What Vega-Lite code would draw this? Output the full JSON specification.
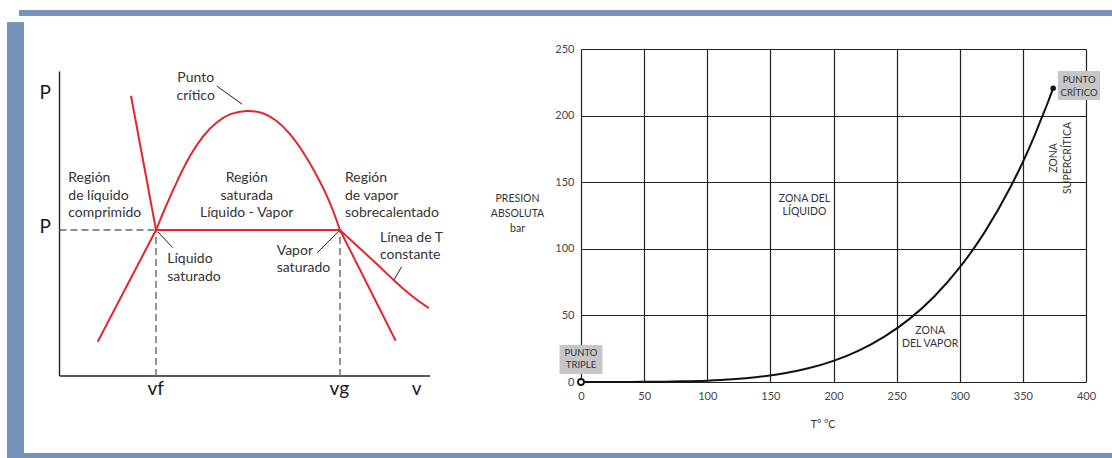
{
  "$schema": "https://vega.github.io/schema/vega-lite/v6.json",
  "padding": {"left": 7, "top": 10, "right": 0, "bottom": 0},
  "background": "white",
  "spacing": 0,
  "config": {"view": {"stroke": null}, "font": "Lato"},
  "vconcat": [
    {
      "spacing": 0,
      "hconcat": [
        {"width": 12, "height": 6, "data": {"values": []}, "mark": "rect", "encoding": {}},
        {"width": 1093, "height": 6, "data": {"values": []}, "mark": "rect", "encoding": {}, "view": {"fill": "#7593BB", "stroke": null}}
      ]
    },
    {
      "spacing": 0,
      "hconcat": [
        {
          "spacing": 0,
          "vconcat": [
            {"width": 17, "height": 6, "data": {"values": []}, "mark": "rect", "encoding": {}},
            {"width": 17, "height": 431, "data": {"values": []}, "mark": "rect", "encoding": {}, "view": {"fill": "#7593BB", "stroke": null}}
          ]
        },
        {
          "width": 466,
          "height": 437,
          "encoding": {
            "x": {"field": "v", "type": "quantitative", "scale": {"domain": [-0.961, 11.651], "nice": false, "zero": false}, "axis": null},
            "y": {"field": "P", "type": "quantitative", "scale": {"domain": [-2.52, 11.78], "nice": false, "zero": false}, "axis": null}
          },
          "layer": [
            {
              "data": {"values": [
                {"v": 0, "P": 0, "v2": 0, "P2": 9.96},
                {"v": 0, "P": 0, "v2": 10.03, "P2": 0}
              ]},
              "mark": {"type": "rule", "color": "#222", "strokeWidth": 1.4},
              "encoding": {"x2": {"field": "v2"}, "y2": {"field": "P2"}}
            },
            {
              "data": {"values": [
                {"v": 0, "P": 4.777, "v2": 2.612, "P2": 4.777},
                {"v": 2.612, "P": 0, "v2": 2.612, "P2": 4.777},
                {"v": 7.591, "P": 0, "v2": 7.591, "P2": 4.777}
              ]},
              "mark": {"type": "rule", "color": "#666", "strokeWidth": 1.4, "strokeDash": [7, 4]},
              "encoding": {"x2": {"field": "v2"}, "y2": {"field": "P2"}}
            },
            {
              "data": {"values": [
                {"v": 4.254, "P": 9.49, "v2": 4.947, "P2": 8.891},
                {"v": 2.658, "P": 4.722, "v2": 3.064, "P2": 4.198},
                {"v": 6.977, "P": 4.035, "v2": 7.572, "P2": 4.755},
                {"v": 9.261, "P": 3.577, "v2": 9.034, "P2": 3.109}
              ]},
              "mark": {"type": "rule", "color": "#222", "strokeWidth": 1},
              "encoding": {"x2": {"field": "v2"}, "y2": {"field": "P2"}}
            },
            {
              "data": {"values": [
                {"seg": "liq", "ord": 1, "v": 1.935, "P": 9.172},
                {"seg": "liq", "ord": 2, "v": 2.612, "P": 4.777},
                {"seg": "lowL", "ord": 1, "v": 1.034, "P": 1.122},
                {"seg": "lowL", "ord": 2, "v": 2.612, "P": 4.777},
                {"seg": "dome", "ord": 1, "v": 2.612, "P": 4.777},
                {"seg": "dome", "ord": 2, "v": 2.84, "P": 5.45},
                {"seg": "dome", "ord": 3, "v": 3.172, "P": 6.358},
                {"seg": "dome", "ord": 4, "v": 3.532, "P": 7.232},
                {"seg": "dome", "ord": 5, "v": 3.892, "P": 7.886},
                {"seg": "dome", "ord": 6, "v": 4.254, "P": 8.321},
                {"seg": "dome", "ord": 7, "v": 4.614, "P": 8.596},
                {"seg": "dome", "ord": 8, "v": 5.066, "P": 8.704},
                {"seg": "dome", "ord": 9, "v": 5.516, "P": 8.629},
                {"seg": "dome", "ord": 10, "v": 5.878, "P": 8.377},
                {"seg": "dome", "ord": 11, "v": 6.238, "P": 7.942},
                {"seg": "dome", "ord": 12, "v": 6.598, "P": 7.34},
                {"seg": "dome", "ord": 13, "v": 6.961, "P": 6.577},
                {"seg": "dome", "ord": 14, "v": 7.321, "P": 5.704},
                {"seg": "dome", "ord": 15, "v": 7.591, "P": 4.777},
                {"seg": "lowR", "ord": 1, "v": 7.591, "P": 4.777},
                {"seg": "lowR", "ord": 2, "v": 9.099, "P": 1.155},
                {"seg": "flat", "ord": 1, "v": 2.612, "P": 4.777},
                {"seg": "flat", "ord": 2, "v": 7.591, "P": 4.777},
                {"seg": "isoT", "ord": 1, "v": 7.591, "P": 4.777},
                {"seg": "isoT", "ord": 2, "v": 8.222, "P": 4.067},
                {"seg": "isoT", "ord": 3, "v": 8.674, "P": 3.577},
                {"seg": "isoT", "ord": 4, "v": 9.034, "P": 3.141},
                {"seg": "isoT", "ord": 5, "v": 9.486, "P": 2.651},
                {"seg": "isoT", "ord": 6, "v": 10.0, "P": 2.215}
              ]},
              "mark": {"type": "line", "color": "#E4262C", "strokeWidth": 2, "interpolate": "basis"},
              "encoding": {"detail": {"field": "seg"}, "order": {"field": "ord", "type": "quantitative"}}
            },
            {
              "data": {"values": [
                {"v": -0.384, "P": 9.054, "t": "P"},
                {"v": -0.384, "P": 4.689, "t": "P"},
                {"v": 2.603, "P": -0.638, "t": "vf"},
                {"v": 7.573, "P": -0.638, "t": "vg"},
                {"v": 9.667, "P": -0.638, "t": "v"}
              ]},
              "mark": {"type": "text", "font": "Lato", "fontSize": 19, "color": "#1a1a1a", "align": "center", "baseline": "alphabetic"},
              "encoding": {"text": {"field": "t"}}
            },
            {
              "data": {"values": [
                {"v": 3.686, "P": 9.742, "t": "Punto\ncrítico"},
                {"v": 5.066, "P": 6.469, "t": "Región\nsaturada\nLíquido - Vapor"}
              ]},
              "mark": {"type": "text", "font": "Lato", "fontSize": 14, "color": "#333", "align": "center", "baseline": "middle", "lineBreak": "\n", "lineHeight": 17.3},
              "encoding": {"text": {"field": "t"}}
            },
            {
              "data": {"values": [
                {"v": 0.238, "P": 6.469, "t": "Región\nde líquido\ncomprimido"},
                {"v": 7.727, "P": 6.469, "t": "Región\nde vapor\nsobrecalentado"},
                {"v": 2.917, "P": 3.819, "t": "Líquido\nsaturado"},
                {"v": 5.878, "P": 4.1, "t": "Vapor\nsaturado"},
                {"v": 8.674, "P": 4.526, "t": "Línea de T\nconstante"}
              ]},
              "mark": {"type": "text", "font": "Lato", "fontSize": 14, "color": "#333", "align": "left", "baseline": "middle", "lineBreak": "\n", "lineHeight": 17.3},
              "encoding": {"text": {"field": "t"}}
            }
          ]
        },
        {
          "spacing": 0,
          "vconcat": [
            {"width": 10, "height": 27, "data": {"values": []}, "mark": "rect", "encoding": {}},
            {
              "width": 505,
              "height": 333,
              "encoding": {
                "x": {"field": "T", "type": "quantitative", "scale": {"domain": [0, 400], "nice": false, "zero": false},
                  "axis": {"title": "T° °C", "values": [0, 50, 100, 150, 200, 250, 300, 350, 400], "grid": true, "gridColor": "#222", "gridWidth": 1.2, "domain": false, "ticks": false, "labelFlush": false,
                    "labelFont": "Lato", "labelFontSize": 11, "labelColor": "#444", "labelPadding": 8,
                    "titleFont": "Lato", "titleFontSize": 10.5, "titleFontWeight": "normal", "titleColor": "#333", "titleX": 241.5, "titleY": 42, "titleBaseline": "middle", "titleAlign": "center"}},
                "y": {"field": "p", "type": "quantitative", "scale": {"domain": [0, 250], "nice": false, "zero": false},
                  "axis": {"title": ["PRESION", "ABSOLUTA", "bar"], "values": [0, 50, 100, 150, 200, 250], "grid": true, "gridColor": "#222", "gridWidth": 1.2, "domain": false, "ticks": false, "labelFlush": false,
                    "labelFont": "Lato", "labelFontSize": 11, "labelColor": "#444", "labelPadding": 7,
                    "titleFont": "Lato", "titleFontSize": 10.5, "titleFontWeight": "normal", "titleColor": "#333", "titleAngle": 0, "titleX": -64, "titleY": 149.3, "titleAlign": "center", "titleBaseline": "middle", "titleLineHeight": 15}}
              },
              "layer": [
                {
                  "data": {"values": [
                    {"T": -17, "T2": 17, "p": 6.0, "p2": 27.8},
                    {"T": 377.7, "T2": 411.2, "p": 211.7, "p2": 233.5}
                  ]},
                  "mark": {"type": "rect", "color": "#c6c6c6"},
                  "encoding": {"x2": {"field": "T2"}, "y2": {"field": "p2"}}
                },
                {
                  "data": {"values": [
                    {"T": 0, "p": 0.006}, {"T": 20, "p": 0.023}, {"T": 40, "p": 0.074}, {"T": 60, "p": 0.2},
                    {"T": 80, "p": 0.47}, {"T": 100, "p": 1.01}, {"T": 120, "p": 2.0}, {"T": 140, "p": 3.7},
                    {"T": 160, "p": 6.3}, {"T": 180, "p": 10.3}, {"T": 200, "p": 15.9}, {"T": 220, "p": 23.6},
                    {"T": 240, "p": 33.9}, {"T": 260, "p": 47.2}, {"T": 280, "p": 64.4}, {"T": 300, "p": 86.0},
                    {"T": 320, "p": 112.9}, {"T": 340, "p": 146.0}, {"T": 350, "p": 165.2}, {"T": 360, "p": 186.7},
                    {"T": 365, "p": 198.6}, {"T": 370, "p": 210.4}, {"T": 374, "p": 220.6}
                  ]},
                  "mark": {"type": "line", "color": "#111", "strokeWidth": 2, "interpolate": "monotone"}
                },
                {
                  "data": {"values": [{"T": 0, "p": 0}]},
                  "mark": {"type": "point", "shape": "circle", "filled": true, "fill": "white", "stroke": "#111", "strokeWidth": 1.8, "size": 36, "opacity": 1}
                },
                {
                  "data": {"values": [{"T": 374, "p": 220.6}]},
                  "mark": {"type": "circle", "color": "#111", "size": 30, "opacity": 1}
                },
                {
                  "data": {"values": [
                    {"T": 0, "p": 22.0, "t": "PUNTO\nTRIPLE"},
                    {"T": 394.5, "p": 226.7, "t": "PUNTO\nCRÍTICO"}
                  ]},
                  "mark": {"type": "text", "font": "Lato", "fontSize": 9.5, "color": "#333", "align": "center", "baseline": "middle", "lineBreak": "\n", "lineHeight": 12.5},
                  "encoding": {"text": {"field": "t"}}
                },
                {
                  "data": {"values": [
                    {"T": 177, "p": 137.2, "t": "ZONA DEL\nLÍQUIDO"},
                    {"T": 276.6, "p": 38.3, "t": "ZONA\nDEL VAPOR"}
                  ]},
                  "mark": {"type": "text", "font": "Lato", "fontSize": 10.5, "color": "#333", "align": "center", "baseline": "middle", "lineBreak": "\n", "lineHeight": 13},
                  "encoding": {"text": {"field": "t"}}
                },
                {
                  "data": {"values": [
                    {"T": 374.3, "p": 168.2, "t": "ZONA\nSUPERCRÍTICA"}
                  ]},
                  "mark": {"type": "text", "font": "Lato", "fontSize": 10.5, "color": "#333", "align": "center", "baseline": "middle", "angle": 270, "lineBreak": "\n", "lineHeight": 14.3},
                  "encoding": {"text": {"field": "t"}}
                }
              ]
            }
          ]
        }
      ]
    },
    {"width": 1105, "height": 5, "data": {"values": []}, "mark": "rect", "encoding": {}, "view": {"fill": "#7593BB", "stroke": null}}
  ]
}
